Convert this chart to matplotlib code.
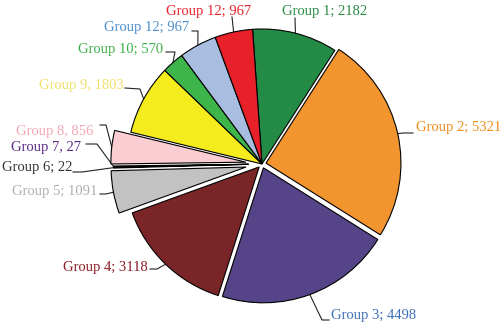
import numpy as np
import matplotlib.pyplot as plt

# group sizes, clockwise from the top
labels = ['Group 1; 2182', 'Group 2; 5321', 'Group 3; 4498', 'Group 4; 3118',
          'Group 5; 1091', 'Group 6; 22', 'Group 7, 27', 'Group 8, 856',
          'Group 9, 1803', 'Group 10; 570', 'Group 12; 967', 'Group 12; 967']
values = [2182, 5321, 4498, 3118, 1091, 22, 27, 856, 1803, 570, 967, 967]

colors = ['#238b45', '#f3952f', '#554488', '#7a2628', '#c2c2c2', '#e8e8e8',
          '#5b2a87', '#f9cdd1', '#f4ec1c', '#3db54a', '#a9bde0', '#e8202a']
text_colors = ['#2a8b45', '#f08c1e', '#3d6fb6', '#8b1c23', '#b0b0b0', '#333333',
               '#5b2a87', '#f4a7b5', '#f2e06a', '#3fb04a', '#4a8fd0', '#e8202a']
explode = [0, 0.03, 0.03, 0.03, 0.12, 0.1, 0.1, 0.12, 0, 0, 0, 0]

# pie centre and radius in pixels
CX, CY, R = 262, 164, 135


def px(x, y):
    return (x - CX) / R, (CY - y) / R


# label placement: text anchor, alignment, leader elbow (pixels)
label_pos = [
    ((325, 12), 'center', [(295, 18)]),
    ((416, 128), 'left', [(413, 133), (403, 133)]),
    ((331, 316), 'left', [(329, 320), (322, 320)]),
    ((148, 267), 'right', [(150, 269), (157, 269)]),
    ((97, 191), 'right', [(100, 194), (106, 194)]),
    ((72, 168), 'right', [(73, 172), (82, 172)]),
    ((81, 148), 'right', [(86, 144), (97, 144)]),
    ((93, 131), 'right', [(100, 125), (106, 125)]),
    ((124, 86), 'right', [(125, 88), (140, 89)]),
    ((163, 50), 'right', [(166, 52), (175, 52)]),
    ((189, 27), 'right', [(192, 31), (198, 31)]),
    ((209, 11), 'center', [(232, 17)]),
]

fig = plt.figure(figsize=(5, 3.27), dpi=100)
ax = fig.add_axes([0, 0, 1, 1])

wedges, _ = ax.pie(values, colors=colors, explode=explode, startangle=94,
                   counterclock=False, radius=1,
                   wedgeprops=dict(edgecolor='black', linewidth=0.8))

for w, lab, tc, (tpos, ha, elbow) in zip(wedges, labels, text_colors, label_pos):
    mid = np.deg2rad((w.theta1 + w.theta2) / 2)
    cx, cy = w.center
    rim = (cx + w.r * np.cos(mid), cy + w.r * np.sin(mid))
    pts = [px(*p) for p in elbow] + [rim]
    ax.plot([p[0] for p in pts], [p[1] for p in pts], color='#222222',
            linewidth=0.8, zorder=0)
    tx, ty = px(*tpos)
    ax.text(tx, ty, lab, ha=ha, va='center', color=tc, fontsize=10.5,
            family='Liberation Serif')

ax.set_xlim(-CX / R, (500 - CX) / R)
ax.set_ylim(-(327 - CY) / R, CY / R)
ax.set_aspect('equal')
ax.axis('off')

fig.savefig('out.png', dpi=100)
